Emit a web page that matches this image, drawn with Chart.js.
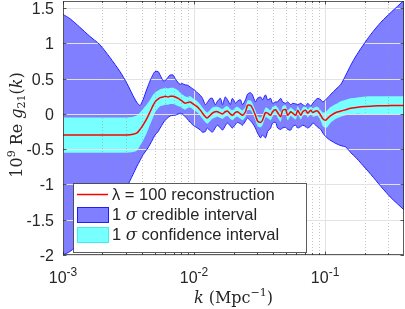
<!DOCTYPE html>
<html>
<head>
<meta charset="utf-8">
<script src="https://cdn.jsdelivr.net/npm/chart.js@4.4.0/dist/chart.umd.min.js"></script>
<style>
  html, body { margin: 0; padding: 0; background: #fff; }
</style>
</head>
<body>
<canvas id="recChart" width="405" height="309"></canvas>
<script>
// k grid (Mpc^-1), shared by all curves
const kGrid = [
    0.001, 0.00113, 0.00134, 0.0016, 0.00191, 0.00228, 0.00272, 0.00308, 0.00342, 0.00367,
    0.00387, 0.00408, 0.00438, 0.00462, 0.00487, 0.00504, 0.00532, 0.00551, 0.00581, 0.00602,
    0.00634, 0.00657, 0.00693, 0.00718, 0.00757, 0.00784, 0.00812, 0.00856, 0.00887, 0.00935,
    0.00969, 0.0102, 0.0106, 0.0112, 0.0116, 0.0122, 0.0126, 0.0133, 0.0138, 0.0145,
    0.0151, 0.0159, 0.0165, 0.0173, 0.018, 0.0189, 0.0196, 0.0207, 0.0214, 0.0226,
    0.0234, 0.0247, 0.0256, 0.027, 0.0279, 0.0294, 0.0305, 0.0322, 0.0333, 0.0351,
    0.0364, 0.0384, 0.0397, 0.0419, 0.0434, 0.0458, 0.0474, 0.05, 0.0518, 0.0546,
    0.0566, 0.0597, 0.0618, 0.0652, 0.0675, 0.0712, 0.0737, 0.0777, 0.0805, 0.0849,
    0.0879, 0.0927, 0.096, 0.101, 0.105, 0.111, 0.121, 0.132, 0.144, 0.157,
    0.172, 0.188, 0.224, 0.267, 0.319, 0.4
];

// lambda = 100 reconstruction
const recon = [
    -0.3, -0.3, -0.3, -0.3, -0.3, -0.3, -0.3, -0.3, -0.29, -0.27,
    -0.22, -0.16, -0.06, 0.03, 0.12, 0.17, 0.21, 0.23, 0.24, 0.25,
    0.24, 0.25, 0.25, 0.24, 0.22, 0.2, 0.18, 0.15, 0.16, 0.17,
    0.15, 0.12, 0.1, 0.05, 0.01, -0.04, -0.06, -0.02, 0.01, 0.03,
    0.03, 0.01, 0.0, 0.03, 0.04, 0.0, -0.02, 0.02, 0.03, 0.0,
    -0.02, 0.03, 0.12, 0.12, 0.08, -0.02, -0.1, -0.12, -0.09, 0.02,
    0.01, -0.02, 0.03, 0.06, 0.02, -0.04, 0.05, 0.06, -0.02, 0.03,
    0.01, -0.02, 0.05, -0.02, 0.03, 0.05, 0.01, 0.05, 0.02, 0.04,
    0.04, -0.02, -0.07, -0.09, -0.06, -0.02, 0.02, 0.04, 0.06, 0.08,
    0.09, 0.1, 0.11, 0.115, 0.12, 0.12
];

// 1 sigma credible interval
const credHi = [
    1.41, 1.35, 1.23, 1.1, 0.98, 0.8, 0.6, 0.43, 0.26, 0.16,
    0.12, 0.2, 0.36, 0.47, 0.56, 0.6, 0.6, 0.55, 0.47, 0.47,
    0.52, 0.55, 0.55, 0.5, 0.44, 0.42, 0.43, 0.41, 0.41, 0.38,
    0.36, 0.33, 0.3, 0.26, 0.22, 0.13, 0.16, 0.22, 0.22, 0.13,
    0.18, 0.22, 0.13, 0.24, 0.2, 0.13, 0.22, 0.15, 0.18, 0.2,
    0.13, 0.2, 0.28, 0.3, 0.27, 0.17, 0.22, 0.24, 0.2, 0.27,
    0.2, 0.22, 0.15, 0.17, 0.17, 0.22, 0.17, 0.15, 0.17, 0.13,
    0.15, 0.14, 0.13, 0.15, 0.13, 0.11, 0.15, 0.11, 0.15, 0.2,
    0.22, 0.2, 0.17, 0.2, 0.23, 0.28, 0.35, 0.42, 0.55, 0.69,
    0.82, 0.93, 1.13, 1.3, 1.44, 1.61
];
const credLo = [
    -2.0, -1.95, -1.83, -1.7, -1.58, -1.4, -1.2, -1.03, -0.86, -0.74,
    -0.66, -0.58, -0.5, -0.43, -0.35, -0.3, -0.25, -0.2, -0.13, -0.09,
    -0.05, -0.03, -0.02, -0.02, 0.0, 0.01, 0.0, -0.04, -0.07, -0.12,
    -0.15, -0.18, -0.2, -0.23, -0.26, -0.25, -0.2, -0.24, -0.26, -0.2,
    -0.16, -0.2, -0.23, -0.17, -0.13, -0.17, -0.2, -0.15, -0.12, -0.14,
    -0.16, -0.1, -0.06, -0.1, -0.13, -0.2, -0.27, -0.34, -0.3, -0.34,
    -0.25, -0.2, -0.13, -0.12, -0.2, -0.22, -0.2, -0.19, -0.22, -0.23,
    -0.18, -0.16, -0.2, -0.18, -0.16, -0.18, -0.2, -0.17, -0.13, -0.16,
    -0.19, -0.22, -0.27, -0.32, -0.35, -0.38, -0.42, -0.45, -0.47, -0.55,
    -0.62, -0.7, -0.86, -1.03, -1.19, -1.36
];

// 1 sigma confidence interval
const confHi = [
    -0.05, -0.05, -0.05, -0.05, -0.05, -0.05, -0.05, -0.05, -0.04, -0.02,
    0.02, 0.07, 0.14, 0.2, 0.27, 0.3, 0.33, 0.35, 0.36, 0.37,
    0.36, 0.37, 0.37, 0.36, 0.33, 0.3, 0.28, 0.25, 0.24, 0.25,
    0.23, 0.2, 0.18, 0.13, 0.09, 0.04, 0.02, 0.06, 0.09, 0.1,
    0.1, 0.08, 0.07, 0.1, 0.11, 0.07, 0.05, 0.09, 0.1, 0.07,
    0.05, 0.1, 0.19, 0.19, 0.15, 0.05, -0.03, -0.05, -0.02, 0.09,
    0.08, 0.05, 0.1, 0.12, 0.09, 0.03, 0.11, 0.12, 0.05, 0.09,
    0.07, 0.04, 0.11, 0.04, 0.09, 0.11, 0.07, 0.11, 0.08, 0.1,
    0.1, 0.05, 0.02, 0.03, 0.06, 0.1, 0.14, 0.18, 0.2, 0.22,
    0.23, 0.24, 0.25, 0.25, 0.25, 0.25
];
const confLo = [
    -0.55, -0.55, -0.55, -0.55, -0.55, -0.55, -0.55, -0.55, -0.54, -0.52,
    -0.45, -0.38, -0.26, -0.15, -0.05, 0.02, 0.08, 0.11, 0.12, 0.13,
    0.13, 0.14, 0.14, 0.13, 0.11, 0.1, 0.08, 0.06, 0.08, 0.09,
    0.07, 0.04, 0.02, -0.03, -0.07, -0.12, -0.14, -0.1, -0.07, -0.05,
    -0.04, -0.06, -0.07, -0.04, -0.03, -0.07, -0.09, -0.05, -0.04, -0.07,
    -0.09, -0.04, 0.05, 0.05, 0.01, -0.09, -0.17, -0.19, -0.16, -0.05,
    -0.06, -0.09, -0.04, 0.0, -0.05, -0.11, -0.01, 0.0, -0.09, -0.03,
    -0.05, -0.08, -0.01, -0.08, -0.03, -0.01, -0.05, -0.01, -0.04, -0.03,
    -0.03, -0.1, -0.17, -0.2, -0.18, -0.12, -0.07, -0.04, -0.02, -0.01,
    0.0, 0.0, 0.0, 0.0, 0.0, 0.0
];

// axes
const yTicks = [-2, -1.5, -1, -0.5, 0, 0.5, 1, 1.5];
const yTickLabels = ['-2', '-1.5', '-1', '-0.5', '0', '0.5', '1', '1.5'];
const xDecades = [0.001, 0.01, 0.1];
const xDecadeExps = ['-3', '-2', '-1'];

const SANS = '"Liberation Sans", Arial, sans-serif';
const SERIF = '"DejaVu Serif", "Liberation Serif", serif';
const TEXT_COL = '#262626';

function pts(ys) {
    return kGrid.map((k, i) => ({ x: k, y: ys[i] }));
}

// draws a list of text runs with own fonts / offsets
function drawRuns(ctx, runs, x, y, align) {
    let total = 0;
    runs.forEach(r => {
        ctx.font = r.font;
        r.w = ctx.measureText(r.text).width;
        total += r.w;
    });
    let cx = x;
    if (align === 'center') cx = x - total / 2;
    if (align === 'right') cx = x - total;
    ctx.textAlign = 'left';
    ctx.textBaseline = 'alphabetic';
    runs.forEach(r => {
        ctx.font = r.font;
        ctx.fillText(r.text, cx, y + (r.dy || 0));
        cx += r.w;
    });
}

// grid behind the bands
const gridPlugin = {
    id: 'gridPlugin',
    beforeDatasetsDraw(chart) {
        const { ctx, chartArea: a, scales: { x, y } } = chart;
        ctx.save();
        ctx.lineWidth = 1;
        // minor x grid, dotted
        ctx.strokeStyle = 'rgba(150,150,150,0.55)';
        ctx.setLineDash([1, 2]);
        xDecades.forEach(d => {
            for (let m = 2; m <= 9; m++) {
                const v = d * m;
                if (v >= 0.4) continue;
                const px = Math.round(x.getPixelForValue(v)) + 0.5;
                ctx.beginPath();
                ctx.moveTo(px, a.top);
                ctx.lineTo(px, a.bottom);
                ctx.stroke();
            }
        });
        ctx.setLineDash([]);
        ctx.strokeStyle = '#e3e3e3';
        xDecades.forEach(d => {
            const px = Math.round(x.getPixelForValue(d)) + 0.5;
            ctx.beginPath();
            ctx.moveTo(px, a.top);
            ctx.lineTo(px, a.bottom);
            ctx.stroke();
        });
        yTicks.forEach(t => {
            const py = Math.round(y.getPixelForValue(t)) + 0.5;
            ctx.beginPath();
            ctx.moveTo(a.left, py);
            ctx.lineTo(a.right, py);
            ctx.stroke();
        });
        ctx.restore();
    }
};

// box, ticks, labels, legend
const axesPlugin = {
    id: 'axesPlugin',
    afterDraw(chart) {
        const { ctx, chartArea: a, scales: { x, y } } = chart;
        ctx.save();
        ctx.strokeStyle = 'rgba(38,38,38,0.75)';
        ctx.lineWidth = 1;
        ctx.strokeRect(Math.round(a.left) + 0.5, Math.round(a.top) + 0.5,
            Math.round(a.right - a.left) - 1, Math.round(a.bottom - a.top) - 1);

        // ticks
        ctx.beginPath();
        yTicks.forEach(t => {
            const py = Math.round(y.getPixelForValue(t)) + 0.5;
            ctx.moveTo(a.left, py); ctx.lineTo(a.left + 3.5, py);
            ctx.moveTo(a.right, py); ctx.lineTo(a.right - 3.5, py);
        });
        xDecades.forEach(d => {
            const px = Math.round(x.getPixelForValue(d)) + 0.5;
            ctx.moveTo(px, a.bottom); ctx.lineTo(px, a.bottom - 3.5);
            ctx.moveTo(px, a.top); ctx.lineTo(px, a.top + 3.5);
            for (let m = 2; m <= 9; m++) {
                if (d * m >= 0.4) continue;
                const pm = Math.round(x.getPixelForValue(d * m)) + 0.5;
                ctx.moveTo(pm, a.bottom); ctx.lineTo(pm, a.bottom - 2);
                ctx.moveTo(pm, a.top); ctx.lineTo(pm, a.top + 2);
            }
        });
        ctx.stroke();

        ctx.fillStyle = TEXT_COL;
        // y tick labels
        yTicks.forEach((t, i) => {
            const py = y.getPixelForValue(t);
            drawRuns(ctx, [{ text: yTickLabels[i], font: '16px ' + SANS }], a.left - 9, py + 6, 'right');
        });
        // x tick labels 10^n
        xDecades.forEach((d, i) => {
            const px = x.getPixelForValue(d);
            drawRuns(ctx, [
                { text: '10', font: '16px ' + SANS },
                { text: xDecadeExps[i], font: '12px ' + SANS, dy: -7 }
            ], px, 283, 'center');
        });

        // x title
        drawRuns(ctx, [
            { text: 'k', font: 'italic 16px ' + SERIF },
            { text: ' (Mpc', font: '16px ' + SERIF },
            { text: '\u22121', font: '11px ' + SERIF, dy: -7 },
            { text: ')', font: '16px ' + SERIF }
        ], (a.left + a.right) / 2, 303, 'center');

        // y title
        ctx.save();
        ctx.translate(22, (a.top + a.bottom) / 2 - 3);
        ctx.rotate(-Math.PI / 2);
        drawRuns(ctx, [
            { text: '10', font: '16px ' + SERIF },
            { text: '9', font: '11px ' + SERIF, dy: -7 },
            { text: ' Re ', font: '16px ' + SERIF },
            { text: 'g', font: 'italic 16px ' + SERIF },
            { text: '21', font: '11px ' + SERIF, dy: 3 },
            { text: '(', font: '16px ' + SERIF },
            { text: 'k', font: 'italic 16px ' + SERIF },
            { text: ')', font: '16px ' + SERIF }
        ], 0, 0, 'center');
        ctx.restore();

        // legend
        const lx = 73.5, ly = 183.5, lw = 233, lh = 69;
        ctx.fillStyle = '#fff';
        ctx.fillRect(lx, ly, lw, lh);
        ctx.strokeStyle = 'rgba(38,38,38,0.75)';
        ctx.strokeRect(lx, ly, lw, lh);

        ctx.strokeStyle = 'rgb(255,0,0)';
        ctx.lineWidth = 1.5;
        ctx.beginPath();
        ctx.moveTo(77, 194.5); ctx.lineTo(108, 194.5);
        ctx.stroke();

        ctx.lineWidth = 1;
        ctx.fillStyle = 'rgba(0,0,255,0.5)';
        ctx.fillRect(77.5, 207.5, 31, 15);
        ctx.strokeStyle = 'rgb(30,30,255)';
        ctx.strokeRect(77.5, 207.5, 31, 15);
        ctx.fillStyle = 'rgb(120,255,255)';
        ctx.fillRect(77.5, 227.5, 31, 15);
        ctx.strokeStyle = 'rgb(60,240,240)';
        ctx.strokeRect(77.5, 227.5, 31, 15);

        ctx.fillStyle = TEXT_COL;
        drawRuns(ctx, [{ text: '\u03bb = 100 reconstruction', font: '16.5px ' + SANS }], 112, 200, 'left');
        drawRuns(ctx, [
            { text: '1 ', font: '16.5px ' + SANS },
            { text: '\u03c3', font: 'italic 16.5px ' + SERIF },
            { text: ' credible interval', font: '16.5px ' + SANS }
        ], 112, 220, 'left');
        drawRuns(ctx, [
            { text: '1 ', font: '16.5px ' + SANS },
            { text: '\u03c3', font: 'italic 16.5px ' + SERIF },
            { text: ' confidence interval', font: '16.5px ' + SANS }
        ], 112, 240, 'left');
        ctx.restore();
    }
};

new Chart(document.getElementById('recChart'), {
    type: 'line',
    data: {
        datasets: [
            {
                label: 'recon',
                data: pts(recon),
                borderColor: 'rgb(255,0,0)',
                borderWidth: 1.5,
                fill: false
            },
            {
                label: 'confHi',
                data: pts(confHi),
                borderWidth: 0,
                borderColor: 'rgba(0,0,0,0)',
                backgroundColor: 'rgb(120,255,255)',
                fill: '+1'
            },
            {
                label: 'confLo',
                data: pts(confLo),
                borderWidth: 0,
                borderColor: 'rgba(0,0,0,0)',
                fill: false
            },
            {
                label: 'credHi',
                data: pts(credHi),
                borderColor: 'rgb(30,30,255)',
                borderWidth: 1,
                backgroundColor: 'rgba(0,0,255,0.5)',
                fill: '+1'
            },
            {
                label: 'credLo',
                data: pts(credLo),
                borderColor: 'rgb(30,30,255)',
                borderWidth: 1,
                fill: false
            }
        ]
    },
    options: {
        responsive: false,
        animation: false,
        devicePixelRatio: 1,
        layout: { padding: { left: 63, right: 1, top: 1, bottom: 54 } },
        elements: { point: { radius: 0 }, line: { tension: 0.25 } },
        plugins: {
            legend: { display: false },
            tooltip: { enabled: false },
            filler: { drawTime: 'beforeDatasetsDraw' }
        },
        scales: {
            x: {
                type: 'logarithmic',
                min: 0.001,
                max: 0.4,
                ticks: { display: false },
                grid: { display: false },
                border: { display: false },
                afterFit(s) { s.height = 0; }
            },
            y: {
                min: -2,
                max: 1.6,
                ticks: { display: false },
                grid: { display: false },
                border: { display: false },
                afterFit(s) { s.width = 0; }
            }
        }
    },
    plugins: [gridPlugin, axesPlugin]
});
</script>
</body>
</html>
